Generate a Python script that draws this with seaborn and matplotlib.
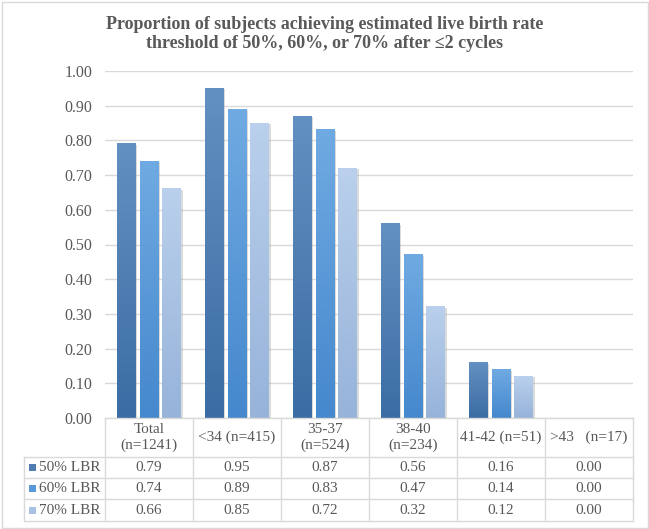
import numpy as np
import pandas as pd
import matplotlib
matplotlib.use("Agg")
import matplotlib.pyplot as plt
import seaborn as sns
from matplotlib import patheffects as pe
from matplotlib.colors import LinearSegmentedColormap
from matplotlib.patches import Rectangle
from matplotlib.lines import Line2D

# ---------------- data ----------------
categories = ["Total\n(n=1241)", "<34 (n=415)", "35-37\n(n=524)",
              "38-40\n(n=234)", "41-42 (n=51)", ">43   (n=17)"]
series_names = ["50% LBR", "60% LBR", "70% LBR"]
lbr50 = [0.79, 0.95, 0.87, 0.56, 0.16, 0.00]
lbr60 = [0.74, 0.89, 0.83, 0.47, 0.14, 0.00]
lbr70 = [0.66, 0.85, 0.72, 0.32, 0.12, 0.00]
yticks = [0.0, 0.1, 0.2, 0.3, 0.4, 0.5, 0.6, 0.7, 0.8, 0.9, 1.0]
title = ("Proportion of subjects achieving estimated live birth rate\n"
         "threshold of 50%, 60%, or 70% after \u22642 cycles")

series_values = [lbr50, lbr60, lbr70]
df = pd.DataFrame({
    "category": [c for _ in series_names for c in categories],
    "series": [s for s in series_names for _ in categories],
    "value": [v for vals in series_values for v in vals],
})

# ---------------- style ----------------
sns.set_theme(style="white")
plt.rcParams["font.family"] = ["Liberation Serif", "DejaVu Serif"]
TXT = "#595959"
GRID = "#d9d9d9"
grads = [("#6290c2", "#3b6ca3"), ("#70aae2", "#4588cd"), ("#bad0ec", "#97b3da")]
mids = ["#4f7db2", "#5a98d8", "#a9c2e3"]

W, H = 649, 529
fig = plt.figure(figsize=(W / 100, H / 100), dpi=100)
fig.patch.set_facecolor("white")

AX_L, AX_R, AX_T, AX_B = 105, 633, 71, 418
ax = fig.add_axes([AX_L / W, 1 - AX_B / H, (AX_R - AX_L) / W, (AX_B - AX_T) / H])

sns.barplot(data=df, x="category", y="value", hue="series", order=categories,
            hue_order=series_names, palette=mids, width=0.78, gap=0.17,
            legend=False, ax=ax, saturation=1, linewidth=0)

ax.set_xlim(-0.5, len(categories) - 0.5)
ax.set_ylim(0, 1.0)
ax.set_yticks(yticks)
ax.set_yticklabels([f"{t:.2f}" for t in yticks], fontsize=11.5, color=TXT)
ax.tick_params(axis="y", length=0, pad=9)
ax.set_xticks([])
ax.set_xlabel("")
ax.set_ylabel("")
ax.yaxis.grid(True, color=GRID, linewidth=1)
ax.set_axisbelow(True)
for s in ["left", "right", "top"]:
    ax.spines[s].set_visible(False)
ax.spines["bottom"].set_color(GRID)
ax.spines["bottom"].set_linewidth(1)

# gradient fills + soft shadow
for cont, (top, bot) in zip(ax.containers, grads):
    cmap = LinearSegmentedColormap.from_list("g", [bot, top])
    for p in cont.patches:
        x, y = p.get_x(), p.get_y()
        w, h = p.get_width(), p.get_height()
        if h <= 0:
            p.set_visible(False)
            continue
        p.set_path_effects([pe.SimplePatchShadow(offset=(1.2, -0.8), shadow_rgbFace="#9a9a9a", alpha=0.35),
                            pe.Normal()])
        grad = np.linspace(0, 1, 256).reshape(-1, 1)
        ax.imshow(grad, extent=[x, x + w, y, y + h], origin="lower", cmap=cmap,
                  aspect="auto", zorder=p.get_zorder() + 0.1)
ax.set_xlim(-0.5, len(categories) - 0.5)
ax.set_ylim(0, 1.0)

# ---------------- title ----------------
fig.text(0.5, 1 - 34 / H, title, ha="center", va="center", fontsize=13,
         fontweight="bold", color=TXT, linespacing=1.1)

# ---------------- data table ----------------
def fxp(px):
    return px / W

def fyp(py):
    return 1 - py / H

LEG_L = 24
col_w = (AX_R - AX_L) / len(categories)
col_edges = [AX_L + i * col_w for i in range(len(categories) + 1)]
row_edges = [418, 457, 478, 499, 521]

def hline(py, x0, x1):
    fig.add_artist(Line2D([fxp(x0), fxp(x1)], [fyp(py), fyp(py)], color=GRID, lw=1))

def vline(px, y0, y1):
    fig.add_artist(Line2D([fxp(px), fxp(px)], [fyp(y0), fyp(y1)], color=GRID, lw=1))

for py in row_edges[1:]:
    hline(py, LEG_L, AX_R)
for px in col_edges:
    vline(px, row_edges[0], row_edges[-1])
vline(LEG_L, row_edges[1], row_edges[-1])

# header
for i, c in enumerate(categories):
    cx = (col_edges[i] + col_edges[i + 1]) / 2
    cy = (row_edges[0] + row_edges[1]) / 2
    fig.text(fxp(cx), fyp(cy), c, ha="center", va="center", fontsize=11,
             color=TXT, linespacing=1.15)

# rows
for r, (name, vals) in enumerate(zip(series_names, series_values)):
    cy = (row_edges[r + 1] + row_edges[r + 2]) / 2
    fig.add_artist(Rectangle((fxp(29), fyp(cy + 3.5)), 7 / W, 7 / H,
                             facecolor=mids[r], edgecolor="none"))
    fig.text(fxp(39), fyp(cy), name, ha="left", va="center", fontsize=11, color=TXT)
    for i, v in enumerate(vals):
        cx = (col_edges[i] + col_edges[i + 1]) / 2
        fig.text(fxp(cx), fyp(cy), f"{v:.2f}", ha="center", va="center",
                 fontsize=11, color=TXT)

# outer border
fig.add_artist(Rectangle((1.5 / W, 1.5 / H), (W - 3) / W, (H - 3) / H,
                         fill=False, edgecolor=GRID, lw=1))

fig.savefig("out.png", dpi=100)
